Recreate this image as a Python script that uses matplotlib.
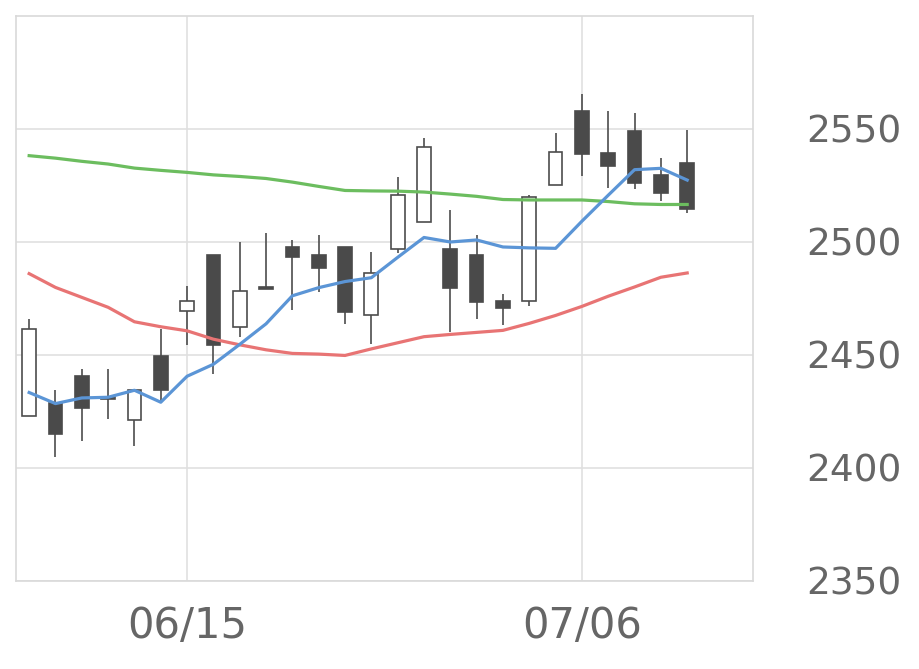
import numpy as np
import matplotlib.pyplot as plt

# daily prices (06/05 .. 07/10)
opens = [2423.2, 2428.8, 2440.8, 2431.2, 2421.3, 2449.6, 2469.3, 2494.1, 2462.6, 2480.0,
         2497.8, 2494.1, 2497.8, 2467.8, 2496.8, 2508.8, 2497.1, 2494.1, 2474.0, 2473.7,
         2525.2, 2557.8, 2539.4, 2549.0, 2529.7, 2534.9]
closes = [2461.3, 2414.9, 2426.7, 2430.7, 2434.7, 2434.3, 2474.0, 2454.3, 2478.5, 2479.4,
          2493.5, 2488.4, 2469.2, 2486.4, 2520.6, 2542.2, 2479.5, 2473.6, 2470.8, 2519.7,
          2539.9, 2538.8, 2533.6, 2526.2, 2521.8, 2514.4]
highs = [2466.0, 2434.3, 2443.9, 2443.9, 2434.7, 2461.6, 2480.5, 2494.1, 2500.2, 2503.9,
         2500.8, 2503.0, 2497.8, 2495.6, 2528.9, 2546.0, 2514.2, 2503.0, 2477.1, 2520.7,
         2548.2, 2565.5, 2557.8, 2557.1, 2537.1, 2549.7]
lows = [2423.2, 2404.7, 2412.0, 2421.7, 2409.9, 2429.4, 2454.3, 2441.7, 2457.9, 2479.0,
        2470.0, 2477.9, 2463.8, 2455.0, 2495.1, 2508.8, 2460.1, 2466.0, 2463.2, 2471.5,
        2525.2, 2529.3, 2524.0, 2523.3, 2518.1, 2512.9]

ma_short = [2433.4, 2428.5, 2431.0, 2431.3, 2434.4, 2429.1, 2440.6, 2445.9, 2454.7, 2463.8,
            2476.2, 2479.8, 2482.5, 2484.2, 2493.2, 2502.0, 2500.0, 2500.9, 2497.8, 2497.4,
            2497.2, 2509.2, 2520.7, 2532.0, 2532.6, 2527.4]
ma_mid = [2486.0, 2479.9, 2475.5, 2471.1, 2464.7, 2462.5, 2460.7, 2457.0, 2454.5, 2452.3,
          2450.7, 2450.4, 2449.8, 2452.7, 2455.4, 2458.1, 2459.1, 2460.0, 2460.9, 2464.0,
          2467.5, 2471.5, 2476.0, 2480.1, 2484.4, 2486.3]
ma_long = [2538.2, 2537.1, 2535.7, 2534.5, 2532.7, 2531.7, 2530.8, 2529.7, 2529.0, 2528.1,
           2526.5, 2524.6, 2522.8, 2522.6, 2522.5, 2522.1, 2521.2, 2520.2, 2518.8, 2518.6,
           2518.6, 2518.6, 2517.9, 2516.9, 2516.6, 2516.6]

tick_pos = [6, 21]
tick_labels = ['06/15', '07/06']
y_ticks = [2350, 2400, 2450, 2500, 2550]

fig = plt.figure(figsize=(9.2, 6.69), dpi=100)
ax = fig.add_axes([16/920, 88/669, 737/920, 565/669])

x = np.arange(len(opens))
o = np.array(opens)
c = np.array(closes)
up = c >= o

ax.vlines(x, lows, highs, color='#4d4d4d', lw=1.2, zorder=2)
bottom = np.minimum(o, c)
height = np.maximum(np.abs(c - o), 0.3)
ax.bar(x[up], height[up], bottom=bottom[up], width=0.52, color='white',
       edgecolor='#4d4d4d', lw=1.2, zorder=3)
ax.bar(x[~up], height[~up], bottom=bottom[~up], width=0.52, color='#4a4a4a',
       edgecolor='#4a4a4a', lw=1.2, zorder=3)

ax.plot(x, ma_long, color='#6cbd5f', lw=2.3, zorder=4)
ax.plot(x, ma_mid, color='#e87474', lw=2.3, zorder=4)
ax.plot(x, ma_short, color='#5b95d6', lw=2.3, zorder=4)

ax.set_xlim(-0.5, 27.5)
ax.set_ylim(2350, 2600)
ax.set_xticks(tick_pos)
ax.set_xticklabels(tick_labels)
ax.set_yticks(y_ticks)
ax.yaxis.tick_right()
ax.tick_params(axis='y', length=0, pad=38, labelsize=27, labelcolor='#666666')
ax.tick_params(axis='x', length=0, pad=17, labelsize=30, labelcolor='#666666')
ax.grid(True, color='#e0e0e0', lw=1.2, zorder=0)
ax.set_axisbelow(True)
for s in ax.spines.values():
    s.set_color('#d9d9d9')
    s.set_linewidth(1.2)

fig.savefig('out.png', dpi=100)
